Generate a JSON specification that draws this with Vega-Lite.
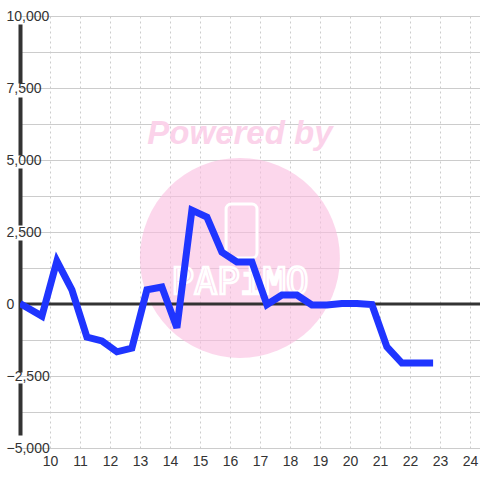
{
  "$schema": "https://vega.github.io/schema/vega-lite/v6.json",
  "width": 460,
  "height": 432,
  "autosize": {"type": "none"},
  "padding": {"left": 20, "top": 16, "right": 0, "bottom": 32},
  "background": "white",
  "config": {
    "view": {"stroke": null},
    "font": "Liberation Sans"
  },
  "datasets": {
    "series": [
      {"t": 9.0, "v": 20},
      {"t": 9.73, "v": -420},
      {"t": 10.23, "v": 1490},
      {"t": 10.73, "v": 490},
      {"t": 11.23, "v": -1150},
      {"t": 11.73, "v": -1280},
      {"t": 12.23, "v": -1660},
      {"t": 12.73, "v": -1530},
      {"t": 13.23, "v": 490},
      {"t": 13.73, "v": 590},
      {"t": 14.23, "v": -830},
      {"t": 14.73, "v": 3260},
      {"t": 15.23, "v": 3020},
      {"t": 15.73, "v": 1800},
      {"t": 16.23, "v": 1460},
      {"t": 16.73, "v": 1460},
      {"t": 17.23, "v": -20},
      {"t": 17.73, "v": 310},
      {"t": 18.23, "v": 310},
      {"t": 18.73, "v": -35},
      {"t": 19.23, "v": -35},
      {"t": 19.73, "v": 20},
      {"t": 20.23, "v": 20},
      {"t": 20.73, "v": -20},
      {"t": 21.23, "v": -1490},
      {"t": 21.73, "v": -2050},
      {"t": 22.23, "v": -2050},
      {"t": 22.77, "v": -2050}
    ],
    "mark": [
      {"t": 16.33, "v": 1600, "label": "Powered by", "ly": 5900, "logo": "PAPiMO", "oy": 730, "px1": 15.87, "px2": 16.9, "py1": 3470, "py2": 1600}
    ],
    "zero": [{"v": 0}]
  },
  "encoding": {
    "x": {
      "field": "t",
      "type": "quantitative",
      "scale": {"domain": [9, 24.3333], "nice": false, "zero": false},
      "axis": {
        "title": null,
        "values": [10, 11, 12, 13, 14, 15, 16, 17, 18, 19, 20, 21, 22, 23, 24],
        "ticks": false,
        "labelPadding": 6,
        "labelFontSize": 14,
        "labelColor": "#333333",
        "labelFlush": false,
        "domainColor": "#cccccc",
        "domainWidth": 1,
        "grid": true,
        "gridColor": "#cccccc",
        "gridDash": [2, 3],
        "gridWidth": 1
      }
    },
    "y": {
      "field": "v",
      "type": "quantitative",
      "scale": {"domain": [-5000, 10000], "nice": false, "zero": false},
      "axis": {
        "title": null,
        "values": [-5000, -3750, -2500, -1250, 0, 1250, 2500, 3750, 5000, 6250, 7500, 8750, 10000],
        "labelExpr": "datum.value % 2500 == 0 ? format(datum.value, ',') : ''",
        "ticks": false,
        "labelAlign": "left",
        "labelPadding": 14,
        "labelFontSize": 14,
        "labelColor": "#333333",
        "labelFlush": false,
        "domainColor": "#333333",
        "domainWidth": 4,
        "domainDash": [0, 13, 52, 11, 132, 15, 57, 13, 58, 14, 59, 8],
        "grid": true,
        "gridColor": "#cccccc",
        "gridWidth": 1
      }
    }
  },
  "layer": [
    {
      "data": {"name": "mark"},
      "mark": {"type": "point", "shape": "circle", "filled": true, "size": 40000, "color": "#fabde0", "opacity": 0.6},
      "encoding": {}
    },
    {
      "data": {"name": "mark"},
      "mark": {"type": "text", "font": "Liberation Sans", "fontSize": 33, "fontWeight": "bold", "fontStyle": "italic", "color": "#fbd3ea", "baseline": "middle", "align": "center"},
      "encoding": {"y": {"field": "ly", "type": "quantitative"}, "text": {"field": "label"}}
    },
    {
      "data": {"name": "mark"},
      "mark": {"type": "rect", "fill": null, "stroke": "white", "strokeWidth": 3, "cornerRadius": 5},
      "encoding": {
        "x": {"field": "px1", "type": "quantitative"},
        "x2": {"field": "px2"},
        "y": {"field": "py1", "type": "quantitative"},
        "y2": {"field": "py2"}
      }
    },
    {
      "data": {"name": "zero"},
      "mark": {"type": "rule", "color": "#333333", "strokeWidth": 3},
      "encoding": {"x": null}
    },
    {
      "data": {"name": "mark"},
      "mark": {"type": "text", "font": "DejaVu Sans Mono", "fontSize": 38, "color": "#fcd6ec", "stroke": "white", "strokeWidth": 2.5, "baseline": "middle", "align": "center"},
      "encoding": {"y": {"field": "oy", "type": "quantitative"}, "text": {"field": "logo"}}
    },
    {
      "data": {"name": "series"},
      "mark": {"type": "line", "color": "#1f35ff", "strokeWidth": 7, "strokeJoin": "miter", "clip": true},
      "encoding": {}
    }
  ]
}
